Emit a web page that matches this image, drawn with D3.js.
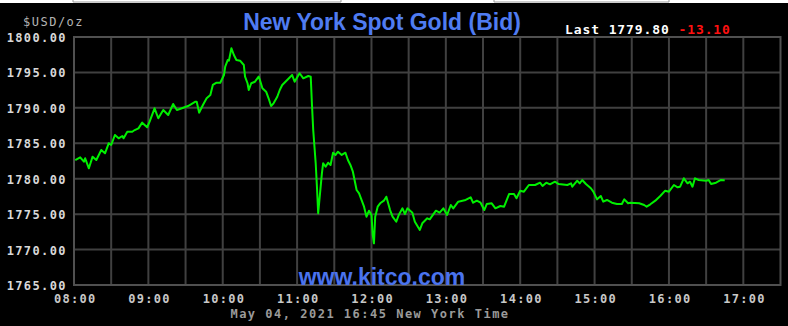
<!doctype html>
<html lang="en">
  <head>
    <meta charset="utf-8">
    <title>New York Spot Gold (Bid)</title>
    <script src="https://d3js.org/d3.v7.min.js"></script>
    <style>
      html, body {
        margin: 0;
        padding: 0;
        background: #000;
      }
      svg {
        display: block;
      }
      .mono {
        font-family: 'DejaVu Sans Mono', monospace;
        font-weight: bold;
      }
    </style>
  </head>
  <body>
    <div id="root"></div>
  </body>
  <script>

    //data:
    const times = [
      "08:01","08:05","08:08","08:09","08:12","08:15","08:18","08:22","08:25","08:28",
      "08:30","08:33","08:36","08:39","08:40","08:43","08:47","08:49","08:52","08:55",
      "08:59","09:01","09:05","09:08","09:12","09:16","09:20","09:23","09:27","09:32",
      "09:38","09:39","09:41","09:44","09:47","09:50","09:52","09:55","09:58","10:01",
      "10:02","10:04","10:05","10:07","10:09","10:11","10:14","10:17","10:18","10:20",
      "10:21","10:23","10:26","10:29","10:30","10:32","10:35","10:37","10:39","10:41",
      "10:44","10:46","10:48","10:52","10:56","10:58","11:02","11:05","11:09","11:11",
      "11:12","11:13","11:15","11:16","11:17","11:18","11:20","11:21","11:23","11:25",
      "11:27","11:29","11:31","11:33","11:36","11:39","11:41","11:43","11:45","11:48",
      "11:50","11:54","11:56","11:58","12:00","12:01","12:02","12:03","12:05","12:07",
      "12:10","12:12","12:15","12:17","12:20","12:22","12:25","12:27","12:29","12:33",
      "12:35","12:39","12:41","12:45","12:47","12:52","12:55","12:58","13:01","13:04",
      "13:06","13:10","13:16","13:20","13:22","13:25","13:28","13:31","13:33","13:37",
      "13:40","13:44","13:47","13:51","13:55","13:57","14:00","14:03","14:07","14:12",
      "14:16","14:18","14:21","14:24","14:28","14:31","14:38","14:41","14:42","14:46",
      "14:48","14:50","14:53","14:57","14:59","15:02","15:05","15:07","15:10","15:14",
      "15:18","15:22","15:24","15:27","15:29","15:36","15:40","15:42","15:45","15:49",
      "15:53","15:57","16:00","16:04","16:07","16:09","16:12","16:15","16:17","16:19",
      "16:21","16:24","16:30","16:32","16:34","16:38","16:42","16:45"
    ];
    const prices = [
      1782.64,1783.02,1782.40,1782.88,1781.47,1783.11,1782.64,1784.05,1783.59,1785.00,
      1784.76,1786.17,1785.70,1786.03,1785.70,1786.63,1786.63,1786.87,1787.11,1787.91,
      1787.26,1788.05,1789.94,1788.53,1789.70,1788.99,1790.54,1789.70,1789.94,1790.26,
      1790.87,1790.87,1789.32,1790.40,1791.35,1791.81,1793.23,1793.55,1793.55,1794.64,
      1795.81,1796.75,1796.66,1798.41,1797.46,1796.75,1796.66,1796.05,1794.40,1793.47,
      1792.52,1793.47,1793.69,1794.40,1793.93,1792.76,1792.28,1791.35,1790.26,1790.64,
      1791.57,1792.52,1793.23,1793.93,1794.64,1793.69,1794.88,1794.17,1794.50,1794.40,
      1790.40,1786.87,1782.18,1778.87,1775.12,1777.00,1780.76,1782.18,1781.70,1782.26,
      1781.94,1783.67,1783.35,1783.81,1783.35,1783.67,1782.64,1781.94,1780.99,1778.41,
      1777.94,1776.05,1774.64,1775.49,1774.88,1772.06,1770.88,1774.64,1776.05,1776.53,
      1776.90,1777.46,1775.58,1774.64,1773.93,1774.88,1775.82,1775.02,1775.82,1775.20,
      1773.93,1772.76,1773.71,1774.41,1774.27,1775.49,1775.20,1775.82,1774.88,1776.29,
      1775.82,1776.76,1777.00,1777.38,1776.61,1776.90,1776.61,1775.58,1776.43,1776.53,
      1775.82,1776.15,1776.05,1777.84,1777.84,1777.24,1778.31,1778.17,1779.11,1779.11,
      1779.44,1778.97,1779.44,1779.21,1779.58,1779.25,1779.11,1779.35,1778.87,1779.72,
      1779.35,1779.82,1779.25,1778.65,1778.17,1777.09,1777.56,1776.76,1777.00,1776.61,
      1776.43,1776.43,1777.09,1776.53,1776.61,1776.53,1776.29,1776.05,1776.39,1776.90,
      1777.56,1778.31,1778.17,1779.11,1778.79,1778.87,1780.06,1779.35,1779.58,1778.87,
      1780.06,1779.82,1779.72,1779.82,1779.25,1779.44,1779.82,1779.80
    ];
    const yTicks = [1765, 1770, 1775, 1780, 1785, 1790, 1795, 1800];
    const hourLabels = ["08:00","09:00","10:00","11:00","12:00","13:00","14:00","15:00","16:00","17:00"];
    const lastPrice = "1779.80";
    const change = "-13.10";

    //constants:
    const width = 788;
    const height = 326;
    const plotLeft = 74, plotRight = 780.5, plotTop = 37, plotBottom = 285;
    const parse = d3.timeParse("%Y-%m-%d %H:%M");
    const day = "2021-05-04 ";
    const data = times.map((t, i) => ({ t: parse(day + t), v: prices[i] }));

    //scales:
    const xScale = d3.scaleTime()
      .domain([parse(day + "08:00"), parse(day + "17:30")])
      .range([plotLeft, plotRight]);

    const yScale = d3.scaleLinear()
      .domain([1765, 1800])
      .range([plotBottom, plotTop]);

    //svg:
    const svg = d3.select('#root')
      .append('svg')
      .attr('width', width)
      .attr('height', height);

    svg.append('rect')
      .attr('width', width).attr('height', height)
      .attr('fill', '#000');

    // white strip at the top (cut-off page above the image)
    svg.append('rect')
      .attr('width', width).attr('height', 3)
      .attr('fill', '#fff');
    [[73, 341], [494, 669]].forEach(([a, b]) => {
      svg.append('path')
        .attr('d', `M${a},0V2H${b}V0`)
        .attr('fill', 'none')
        .attr('stroke', '#999')
        .attr('stroke-width', 1);
    });

    //grid:
    const halfHours = d3.timeMinute.every(30).range(parse(day + "08:30"), parse(day + "17:30"));
    const grid = svg.append('g');
    grid.selectAll('line.v')
      .data(halfHours)
      .enter()
      .append('line')
      .attr('x1', d => xScale(d)).attr('x2', d => xScale(d))
      .attr('y1', plotTop).attr('y2', plotBottom)
      .attr('stroke', '#404040')
      .attr('stroke-width', 2);
    grid.selectAll('line.h')
      .data(yTicks.slice(1, -1))
      .enter()
      .append('line')
      .attr('x1', plotLeft).attr('x2', plotRight)
      .attr('y1', d => yScale(d)).attr('y2', d => yScale(d))
      .attr('stroke', '#404040')
      .attr('stroke-width', 2);

    svg.append('rect')
      .attr('x', plotLeft).attr('y', plotTop)
      .attr('width', plotRight - plotLeft).attr('height', plotBottom - plotTop)
      .attr('fill', 'none')
      .attr('stroke', '#505050')
      .attr('stroke-width', 2);

    //axes:
    const xAxis = d3.axisBottom(xScale)
      .tickValues(hourLabels.map(h => parse(day + h)))
      .tickFormat(d3.timeFormat("%H:%M"))
      .tickSize(0);
    const gx = svg.append('g')
      .attr('transform', `translate(0, ${plotBottom})`)
      .call(xAxis);
    gx.select('.domain').remove();
    gx.selectAll('text')
      .attr('class', 'mono')
      .attr('y', 18)
      .attr('dy', 0)
      .attr('dx', 0.7)
      .attr('fill', '#c8c8c8')
      .style('font-size', '12px')
      .style('letter-spacing', '1.3px');

    const yAxis = d3.axisLeft(yScale)
      .tickValues(yTicks)
      .tickFormat(d3.format('.2f'))
      .tickSize(0)
      .tickPadding(7);
    const gy = svg.append('g')
      .attr('transform', `translate(${plotLeft}, 0)`)
      .call(yAxis);
    gy.select('.domain').remove();
    gy.selectAll('text')
      .attr('class', 'mono')
      .attr('dy', '0.38em')
      .attr('fill', '#d8d8d8')
      .style('font-size', '12px')
      .style('letter-spacing', '1.4px');

    //line:
    const line = d3.line()
      .x(d => xScale(d.t))
      .y(d => yScale(d.v));

    svg.append('path')
      .datum(data)
      .attr('d', line)
      .attr('fill', 'none')
      .attr('stroke', '#00f000')
      .attr('stroke-width', 2)
      .attr('stroke-linejoin', 'round');

    //texts:
    svg.append('text')
      .attr('class', 'mono')
      .attr('x', 23).attr('y', 26)
      .attr('fill', '#b4b4b4')
      .style('font-size', '12px')
      .style('font-weight', 'normal')
      .style('letter-spacing', '1.5px')
      .text('$USD/oz');

    svg.append('text')
      .attr('x', 382).attr('y', 30)
      .attr('text-anchor', 'middle')
      .attr('fill', '#4f7cf2')
      .style('font-family', "'Liberation Sans', Arial, sans-serif")
      .style('font-weight', 'bold')
      .style('font-size', '23px')
      .text('New York Spot Gold (Bid)');

    const last = svg.append('text')
      .attr('class', 'mono')
      .attr('x', 565).attr('y', 33.5)
      .style('font-size', '13px')
      .style('letter-spacing', '0.9px');
    last.append('tspan').attr('fill', '#ffffff').text(`Last ${lastPrice} `);
    last.append('tspan').attr('fill', '#ff1010').text(change);

    svg.append('text')
      .attr('x', 382).attr('y', 284.5)
      .attr('text-anchor', 'middle')
      .attr('fill', '#4a73ee')
      .style('font-family', "'Liberation Sans', Arial, sans-serif")
      .style('font-weight', 'bold')
      .style('font-size', '23px')
      .text('www.kitco.com');

    svg.append('text')
      .attr('class', 'mono')
      .attr('x', 370).attr('y', 318)
      .attr('text-anchor', 'middle')
      .attr('fill', '#9a9a9a')
      .style('font-size', '12px')
      .style('letter-spacing', '1.5px')
      .text('May 04, 2021 16:45 New York Time');

  </script>
</html>
